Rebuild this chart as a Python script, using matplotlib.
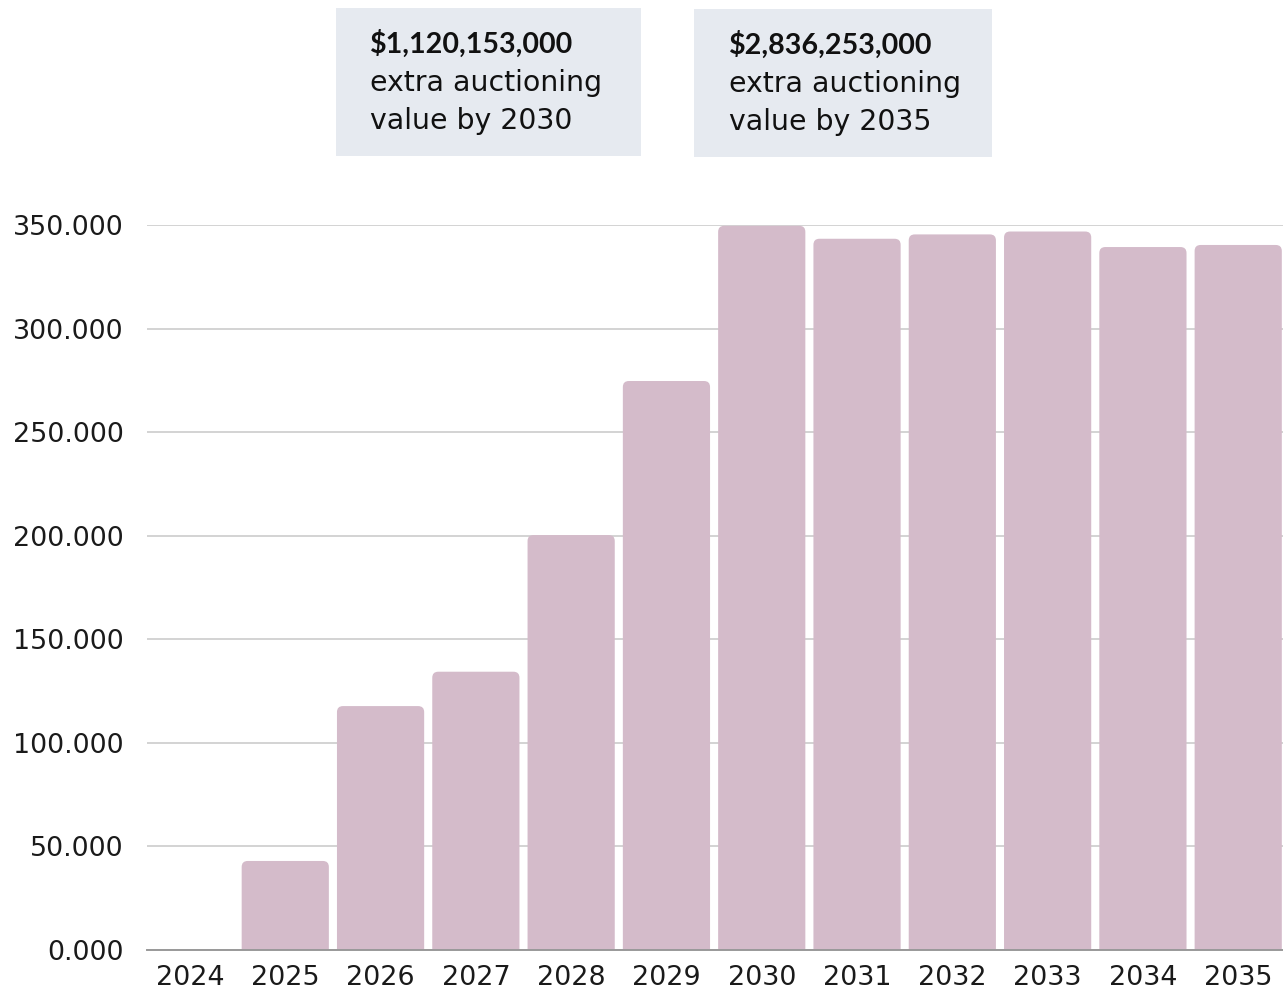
import numpy as np
import matplotlib
matplotlib.use("Agg")
import matplotlib.pyplot as plt
from matplotlib.patches import FancyBboxPatch, Rectangle
from matplotlib.ticker import FuncFormatter

# yearly extra auctioning value (thousand $)
years = ["2024", "2025", "2026", "2027", "2028", "2029",
         "2030", "2031", "2032", "2033", "2034", "2035"]
values = [0, 43000, 117800, 134400, 200400, 274800,
          349753, 343500, 345600, 347000, 339500, 340500]
y_ticks = [0, 50000, 100000, 150000, 200000, 250000, 300000, 350000]

total_2030 = sum(values[:7])
total_2035 = sum(values)
callouts = [
    ("${:,}".format(total_2030 * 1000), "extra auctioning", "value by 2030"),
    ("${:,}".format(total_2035 * 1000), "extra auctioning", "value by 2035"),
]

W, H = 1283, 992
fig = plt.figure(figsize=(W / 100, H / 100), dpi=100)
plt.rcParams['font.family'] = ['DejaVu Sans']

ax = fig.add_axes([147 / W, (H - 950) / H, (W - 147) / W, (950 - 225.3) / H])
ax.set_xlim(-0.451, 11.47)
ax.set_ylim(0, 350000)

bar_color = "#d4bbca"
width = 0.915
px_x = 95.27            # pixels per category
px_y = 724.7 / 350000   # pixels per unit
r = 6 / px_x
for i, v in enumerate(values):
    if v <= 0:
        continue
    box = FancyBboxPatch((i - width / 2, -8000), width, v + 8000,
                         boxstyle="round,pad=0,rounding_size=%f" % r,
                         mutation_aspect=(px_x / px_y),
                         facecolor=bar_color, edgecolor="none", zorder=2)
    ax.add_patch(box)

ax.set_yticks(y_ticks)
ax.yaxis.set_major_formatter(FuncFormatter(lambda v, p: "{:.3f}".format(v / 1000)))
ax.set_xticks(range(len(years)))
ax.set_xticklabels(years)
ax.tick_params(axis="both", length=0, labelsize=19.4, colors="#1a1a1a")
ax.tick_params(axis="y", pad=17)
ax.tick_params(axis="x", pad=11)
ax.grid(axis="y", color="#cccccc", linewidth=1.2, zorder=0)
ax.set_axisbelow(True)
for s in ["top", "right", "left"]:
    ax.spines[s].set_visible(False)
ax.spines["bottom"].set_color("#999999")
ax.spines["bottom"].set_linewidth(1.4)
ax.spines["bottom"].set_zorder(3)

# callout boxes above the chart
boxes = [(336, 8, 305, 148, 370), (694, 9, 298, 148, 729)]
for (x0, y0, bw, bh, tx), (head, l1, l2) in zip(boxes, callouts):
    fig.patches.append(Rectangle((x0 / W, 1 - (y0 + bh) / H), bw / W, bh / H,
                                 transform=fig.transFigure, facecolor="#e6eaf0",
                                 edgecolor="none"))
    fig.text(tx / W, 1 - (y0 + 36) / H, head, fontsize=20.6, fontweight="bold",
             family="Lato", color="#111111", va="center", ha="left")
    fig.text(tx / W, 1 - (y0 + 75) / H, l1, fontsize=20.4, color="#111111",
             va="center", ha="left")
    fig.text(tx / W, 1 - (y0 + 113) / H, l2, fontsize=20.4, color="#111111",
             va="center", ha="left")

fig.savefig("out.png", dpi=100)
